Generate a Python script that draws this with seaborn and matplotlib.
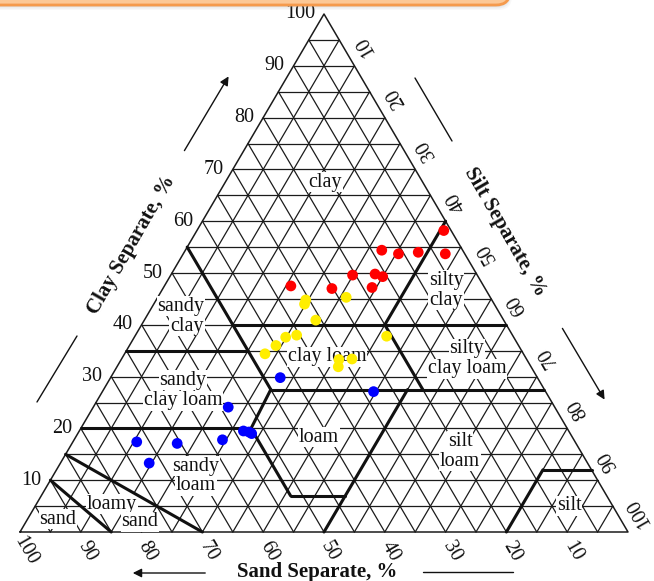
import numpy as np
import pandas as pd
import matplotlib
matplotlib.use("Agg")
import matplotlib.pyplot as plt
from matplotlib.transforms import Affine2D
from matplotlib.patches import FancyBboxPatch
import seaborn as sns

# ---- sample compositions (silt %, clay %; sand = remainder) ----
red_silt = [40.6, 32.3, 35.4, 38.5, 43.1, 20.8, 27.8, 29.9, 33.5, 35.0, 34.3]
red_clay = [58.2, 54.4, 53.7, 54.0, 53.7, 47.5, 47.0, 49.6, 49.8, 49.3, 47.2]

yellow_silt = [31.0, 24.6, 24.8, 28.2, 41.4, 26.5, 24.9, 24.1, 23.1, 35.8, 37.9, 36.4]
yellow_clay = [45.3, 44.8, 44.0, 40.9, 37.8, 38.0, 37.6, 36.0, 34.4, 33.3, 33.4, 31.9]

blue_silt = [27.9, 44.6, 22.2, 27.0, 28.0, 28.6, 24.4, 17.3, 10.5, 14.6]
blue_clay = [29.8, 27.1, 24.1, 19.5, 19.3, 19.0, 17.8, 17.1, 17.4, 13.3]

# ---- USDA texture-class boundaries as (silt, clay) segments ----
boundary_silt = [[0, 15], [0, 30], [0, 28], [28, 41], [41, 50], [50, 50],
                 [28, 27.5], [27.5, 72.5], [27.5, 0], [0, 20], [15, 60],
                 [40, 40], [40, 52.5], [80, 80], [80, 88]]
boundary_clay = [[10, 0], [15, 0], [20, 20], [20, 7], [7, 7], [0, 27.5],
                 [20, 27.5], [27.5, 27.5], [27.5, 55], [35, 35], [40, 40],
                 [40, 60], [40, 27.5], [0, 12], [12, 12]]

tick_values = [10, 20, 30, 40, 50, 60, 70, 80, 90, 100]

class_names = ["clay", "silty", "clay", "sandy", "clay", "clay loam", "silty",
               "clay loam", "sandy", "clay loam", "loam", "silt", "loam",
               "sandy", "loam", "loamy", "sand", "sand", "silt"]
class_x = [325, 446, 446, 181, 187, 327, 467, 467, 183, 183, 319, 460, 460,
           196, 196, 112, 140, 58, 569]
class_y = [182, 280, 300, 306, 326, 357, 349, 369, 380, 401, 437, 441, 461,
           466, 486, 504, 522, 519, 506]

df = pd.DataFrame({
    "silt": red_silt + yellow_silt + blue_silt,
    "clay": red_clay + yellow_clay + blue_clay,
    "group": ["red"] * len(red_silt) + ["yellow"] * len(yellow_silt)
             + ["blue"] * len(blue_silt),
})
df["sand"] = 100 - df["silt"] - df["clay"]

sns.set_theme(style="white")
plt.rcParams["font.family"] = ["Liberation Serif", "DejaVu Serif"]

fig = plt.figure(figsize=(6.54, 5.81), dpi=100)
ax = fig.add_axes([0, 0, 1, 1])
ax.set_xlim(0, 654)
ax.set_ylim(581, 0)
ax.set_autoscale_on(False)
ax.axis("off")

# triangle geometry (canvas units): left corner, base width, height
X0, Y0, W, H = 20, 532, 608, 518
tern = Affine2D().from_values(W / 100, 0, W / 200, -H / 100, X0, Y0)
tr = tern + ax.transData

ink = "#1b1b1b"
# 5 % grid: clay (horizontal), sand and silt lines
for k in range(5, 100, 5):
    ax.plot([0, 100 - k], [k, k], transform=tr, color=ink, lw=0.9, zorder=1)
    ax.plot([0, 100 - k], [100 - k, 0], transform=tr, color=ink, lw=0.9, zorder=1)
    ax.plot([k, k], [0, 100 - k], transform=tr, color=ink, lw=0.9, zorder=1)
# outline
ax.plot([0, 100, 0, 0], [0, 0, 100, 0], transform=tr, color=ink, lw=1.1, zorder=1)

# class labels
for name, x, y in zip(class_names, class_x, class_y):
    ax.text(x, y, name, ha="center", va="center", fontsize=14.5, color="#111",
            zorder=3, bbox=dict(facecolor="white", edgecolor="none", pad=0.6))

# class boundaries
for bs, bc in zip(boundary_silt, boundary_clay):
    ax.plot(bs, bc, transform=tr, color="#111", lw=2.2, zorder=4,
            solid_capstyle="round")

# samples
sns.scatterplot(data=df, x="silt", y="clay", hue="group",
                palette={"red": "#ff0000", "yellow": "#ffee00", "blue": "#0000ff"},
                s=60, edgecolor="none", legend=False, ax=ax, transform=tr,
                zorder=5)
ax.set_xlim(0, 654)
ax.set_ylim(581, 0)

# tick labels on the three sides
for v in tick_values:
    # clay, left side
    xl, yl = tern.transform((0, v))
    ax.text(xl - 9, yl, str(v), ha="right", va="center", fontsize=14.5, color="#111")
    # silt, right side
    xr, yr = tern.transform((v, 100 - v))
    ax.text(xr + 11, yr - 20, str(v), ha="center", va="center", rotation=120,
            fontsize=14.5, color="#111")
    # sand, bottom
    xb, yb = tern.transform((100 - v, 0))
    ax.text(xb + 6, yb + 19, str(v), ha="center", va="center", rotation=-60,
            fontsize=14.5, color="#111")

# axis titles
ax.text(132, 245, "Clay Separate, %", rotation=60, ha="center", va="center",
        fontsize=15, fontweight="bold", color="#111")
ax.text(505, 232, "Silt Separate, %", rotation=-60, ha="center", va="center",
        fontsize=15, fontweight="bold", color="#111")
ax.text(317, 572, "Sand Separate, %", ha="center", va="center",
        fontsize=15, fontweight="bold", color="#111")

# direction arrows and rules beside the titles
arrow = dict(arrowstyle="-|>", color="#111", lw=1.0, mutation_scale=13)
ax.annotate("", xy=(230, 74), xytext=(183, 153), arrowprops=arrow)
ax.annotate("", xy=(606, 402), xytext=(561, 326), arrowprops=arrow)
ax.annotate("", xy=(130, 573), xytext=(208, 573), arrowprops=arrow)
ax.plot([37, 77], [402, 336], color="#111", lw=1.0)
ax.plot([415, 452], [78, 141], color="#111", lw=1.0)
ax.plot([423, 513], [572, 572], color="#111", lw=1.0)

# header banner at the top edge
for i, a in enumerate([0.05, 0.08, 0.12, 0.16]):
    ax.add_patch(FancyBboxPatch((-40, -40), 552 - i, 50 - i * 1.5,
                                boxstyle="round,pad=0,rounding_size=14",
                                facecolor="#777777", edgecolor="none",
                                alpha=a, zorder=6))
ax.add_patch(FancyBboxPatch((-40, -40), 550, 45,
                            boxstyle="round,pad=0,rounding_size=14",
                            facecolor="#fcc896", edgecolor="#f59a4c",
                            lw=2.0, zorder=7))

fig.savefig("out.png", dpi=100)
